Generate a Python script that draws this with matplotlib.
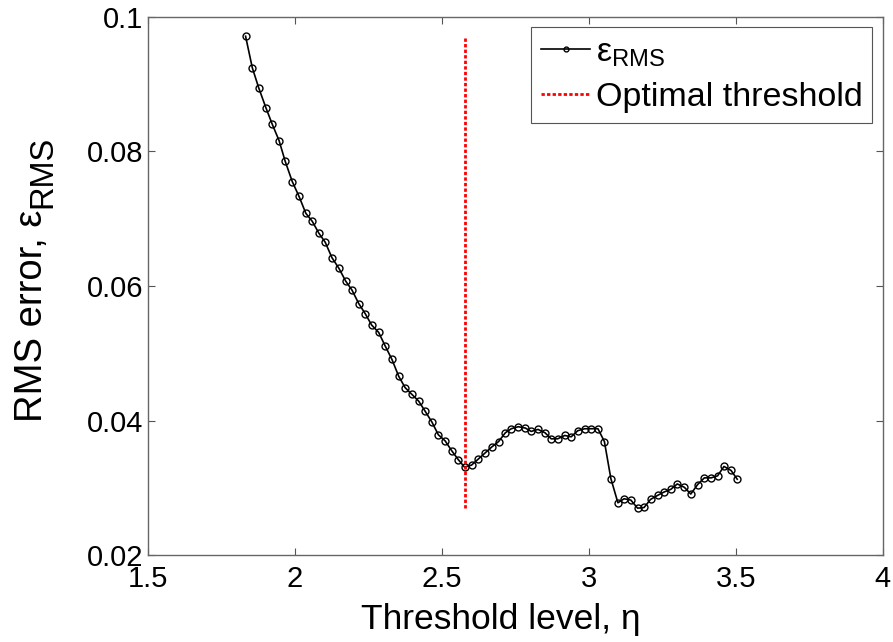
import numpy as np
import matplotlib
matplotlib.use("Agg")
import matplotlib.pyplot as plt

plt.rcParams['font.family'] = ['Liberation Sans', 'DejaVu Sans']
plt.rcParams['mathtext.fontset'] = 'custom'
plt.rcParams['mathtext.rm'] = 'Liberation Sans'
plt.rcParams['mathtext.it'] = 'Liberation Sans'

# threshold levels and rms error
eta = [1.832, 1.855, 1.877, 1.901, 1.923, 1.946, 1.967, 1.991, 2.014, 2.037,
       2.059, 2.082, 2.103, 2.126, 2.150, 2.173, 2.194, 2.217, 2.239, 2.261,
       2.285, 2.307, 2.330, 2.353, 2.375, 2.398, 2.421, 2.443, 2.466, 2.488,
       2.511, 2.534, 2.556, 2.577, 2.601, 2.624, 2.647, 2.670, 2.693, 2.716,
       2.736, 2.760, 2.784, 2.804, 2.827, 2.851, 2.872, 2.894, 2.918, 2.940,
       2.962, 2.986, 3.008, 3.031, 3.053, 3.075, 3.099, 3.120, 3.143, 3.166,
       3.188, 3.210, 3.234, 3.256, 3.279, 3.301, 3.325, 3.347, 3.370, 3.393,
       3.416, 3.438, 3.460, 3.484, 3.505]
eps_rms = [0.0971, 0.0924, 0.0894, 0.0865, 0.0840, 0.0816, 0.0785, 0.0755, 0.0733, 0.0708,
           0.0696, 0.0678, 0.0665, 0.0642, 0.0626, 0.0607, 0.0594, 0.0574, 0.0559, 0.0542,
           0.0531, 0.0511, 0.0491, 0.0466, 0.0449, 0.0439, 0.0429, 0.0414, 0.0398, 0.0379,
           0.0370, 0.0355, 0.0342, 0.0331, 0.0334, 0.0343, 0.0352, 0.0361, 0.0369, 0.0382,
           0.0388, 0.0391, 0.0389, 0.0384, 0.0387, 0.0382, 0.0373, 0.0373, 0.0378, 0.0376,
           0.0385, 0.0388, 0.0388, 0.0388, 0.0369, 0.0314, 0.0278, 0.0284, 0.0282, 0.0270,
           0.0271, 0.0283, 0.0289, 0.0294, 0.0298, 0.0306, 0.0301, 0.0291, 0.0305, 0.0315,
           0.0315, 0.0318, 0.0332, 0.0326, 0.0313]
eta_opt = 2.577

W, H = 893, 642
fig = plt.figure(figsize=(W/100, H/100), dpi=100)
ax = fig.add_axes([148/W, 1-555.3/H, 734.7/W, 538.6/H])

ax.plot(eta, eps_rms, color='black', lw=1.2, marker='o', ms=5,
        mfc='none', mec='black', mew=1.0, label=r'$\varepsilon_{\mathrm{RMS}}$')
ax.plot([eta_opt, eta_opt], [min(eps_rms), max(eps_rms)], color='red',
        lw=2, linestyle=(0, (1.2, 0.8)), label='Optimal threshold')

ax.set_xlim(1.5, 4)
ax.set_ylim(0.02, 0.1)
ax.set_xticks([1.5, 2, 2.5, 3, 3.5, 4])
ax.set_xticklabels(['1.5', '2', '2.5', '3', '3.5', '4'])
ax.set_yticks([0.02, 0.04, 0.06, 0.08, 0.1])
ax.set_yticklabels(['0.02', '0.04', '0.06', '0.08', '0.1'])
ax.tick_params(direction='in', length=5, width=0.8, colors='#555555',
               labelcolor='black', labelsize=21, top=True, right=True)
ax.tick_params(axis='x', pad=7)
for s in ax.spines.values():
    s.set_color('#666666')
    s.set_linewidth(1.0)

ax.set_xlabel('Threshold level, η', fontsize=25.5, labelpad=6)
ax.xaxis.set_label_coords(0.4805, -0.088)

# y label with a near full size subscript, built from two texts
fig.canvas.draw()
r = fig.canvas.get_renderer()
t_main = fig.text(0, 0, 'RMS error, ε', fontsize=27.5, rotation=90,
                  rotation_mode='anchor', ha='left', va='baseline')
t_sub = fig.text(0, 0, 'RMS', fontsize=23.5, rotation=90,
                 rotation_mode='anchor', ha='left', va='baseline')
L1 = t_main.get_window_extent(r).height
L2 = t_sub.get_window_extent(r).height
y0 = H - 422
t_main.set_position((42/W, y0/H))
t_sub.set_position((51/W, (y0 + L1 + 2)/H))

leg = ax.legend(loc='upper right', fontsize=24.5, numpoints=1, fancybox=False,
                handlelength=1.45, handletextpad=0.15, borderaxespad=0.3,
                labelspacing=0.4, borderpad=0.3, framealpha=1)
leg.get_frame().set_edgecolor('#555555')
leg.get_frame().set_linewidth(0.8)
leg.legend_handles[0].set_markersize(3.5)

fig.savefig('out.png', dpi=100)
